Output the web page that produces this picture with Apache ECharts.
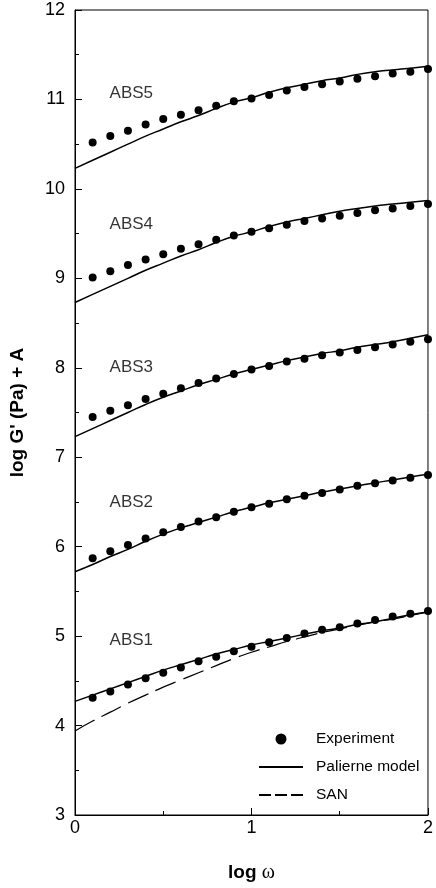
<!DOCTYPE html>
<html>
<head>
<meta charset="utf-8">
<script src="https://cdn.jsdelivr.net/npm/echarts@6/dist/echarts.min.js"></script>
<style>
  html, body { margin: 0; padding: 0; background: #fff; }
  #chart { width: 436px; height: 888px; }
</style>
</head>
<body>
<div id="chart"></div>
<script>
// log omega for experiment points and for model curves
const xExp = [0.1, 0.2, 0.3, 0.4, 0.5, 0.6, 0.7, 0.8, 0.9, 1.0, 1.1, 1.2, 1.3, 1.4, 1.5, 1.6, 1.7, 1.8, 1.9, 2.0]
const xModel = [0, 0.1, 0.2, 0.3, 0.4, 0.5, 0.6, 0.7, 0.8, 0.9, 1.0, 1.1, 1.2, 1.3, 1.4, 1.5, 1.6, 1.7, 1.8, 1.9, 2.0]

// experiment (log G' + A)
const abs1Exp = [4.31, 4.38, 4.46, 4.53, 4.59, 4.65, 4.72, 4.77, 4.83, 4.88, 4.93, 4.98, 5.03, 5.07, 5.10, 5.14, 5.18, 5.22, 5.25, 5.28]
const abs2Exp = [5.87, 5.95, 6.02, 6.09, 6.16, 6.22, 6.28, 6.33, 6.39, 6.44, 6.48, 6.53, 6.57, 6.60, 6.64, 6.68, 6.71, 6.74, 6.77, 6.80]
const abs3Exp = [7.45, 7.52, 7.58, 7.65, 7.71, 7.77, 7.83, 7.88, 7.93, 7.98, 8.02, 8.07, 8.10, 8.14, 8.17, 8.20, 8.23, 8.26, 8.29, 8.32]
const abs4Exp = [9.01, 9.08, 9.15, 9.21, 9.27, 9.33, 9.38, 9.43, 9.48, 9.52, 9.56, 9.60, 9.64, 9.67, 9.70, 9.73, 9.76, 9.78, 9.81, 9.83]
const abs5Exp = [10.52, 10.59, 10.65, 10.72, 10.78, 10.83, 10.88, 10.93, 10.98, 11.01, 11.05, 11.10, 11.14, 11.17, 11.20, 11.23, 11.26, 11.29, 11.31, 11.34]

// Palierne model
const abs1Model = [4.27, 4.34, 4.41, 4.48, 4.55, 4.62, 4.68, 4.74, 4.80, 4.85, 4.90, 4.94, 4.98, 5.02, 5.06, 5.09, 5.13, 5.16, 5.20, 5.24, 5.27]
const abs2Model = [5.72, 5.80, 5.89, 5.97, 6.06, 6.14, 6.21, 6.27, 6.33, 6.39, 6.44, 6.49, 6.53, 6.57, 6.61, 6.645, 6.68, 6.715, 6.745, 6.78, 6.81]
const abs3Model = [7.23, 7.32, 7.41, 7.50, 7.59, 7.67, 7.74, 7.81, 7.87, 7.93, 7.98, 8.03, 8.08, 8.12, 8.16, 8.19, 8.23, 8.26, 8.29, 8.33, 8.37]
const abs4Model = [8.73, 8.82, 8.91, 9.00, 9.09, 9.17, 9.25, 9.32, 9.40, 9.47, 9.52, 9.58, 9.63, 9.67, 9.71, 9.75, 9.78, 9.81, 9.83, 9.85, 9.87]
const abs5Model = [10.23, 10.32, 10.41, 10.50, 10.59, 10.67, 10.75, 10.82, 10.90, 10.97, 11.02, 11.08, 11.13, 11.17, 11.21, 11.24, 11.28, 11.31, 11.33, 11.35, 11.37]

// SAN matrix
const sanModel = [3.94, 4.05, 4.15, 4.25, 4.34, 4.43, 4.51, 4.59, 4.67, 4.75, 4.82, 4.88, 4.94, 4.99, 5.04, 5.08, 5.12, 5.16, 5.19, 5.23, 5.27]

const blendNames = ['ABS1', 'ABS2', 'ABS3', 'ABS4', 'ABS5']
const nameY = [4.95, 6.5, 8.0, 9.6, 11.07]

const expSets = [abs1Exp, abs2Exp, abs3Exp, abs4Exp, abs5Exp]
const modelSets = [abs1Model, abs2Model, abs3Model, abs4Model, abs5Model]

const font = '"Liberation Sans", Arial, Helvetica, sans-serif'

const myChart = echarts.init(document.getElementById('chart'))

const series = []
expSets.forEach(vals => {
  series.push({
    name: 'Experiment',
    type: 'scatter',
    symbol: 'circle',
    symbolSize: 8,
    itemStyle: { color: '#000', opacity: 1 },
    z: 3,
    data: xExp.map((x, i) => [x, vals[i]]),
  })
})
modelSets.forEach(vals => {
  series.push({
    name: 'Palierne model',
    type: 'line',
    smooth: true,
    symbol: 'none',
    lineStyle: { color: '#000', width: 1.5 },
    itemStyle: { color: '#000' },
    data: xModel.map((x, i) => [x, vals[i]]),
  })
})
series.push({
  name: 'SAN',
  type: 'line',
  smooth: true,
  symbol: 'none',
  lineStyle: { color: '#000', width: 1.2, type: [22, 8] },
  itemStyle: { color: '#000' },
  data: xModel.map((x, i) => [x, sanModel[i]]),
})
series.push({
  name: 'labels',
  type: 'scatter',
  symbolSize: 0,
  silent: true,
  label: {
    show: true,
    position: 'right',
    distance: 0,
    formatter: p => blendNames[p.dataIndex],
    color: '#000',
    fontSize: 17,
    fontFamily: font,
  },
  data: nameY.map(y => [0.196, y]),
})

myChart.setOption({
  animation: false,
  backgroundColor: '#fff',
  grid: {
    left: 75,
    right: 3,
    top: 10,
    bottom: 70,
    show: true,
    borderColor: '#000',
    borderWidth: 1,
  },
  legend: {
    data: [
      { name: 'Experiment', icon: 'circle', itemStyle: { color: '#000', opacity: 1 } },
      { name: 'Palierne model', itemStyle: { opacity: 0 } },
      { name: 'SAN', itemStyle: { opacity: 0 }, lineStyle: { type: [12, 4] } },
    ],
    orient: 'vertical',
    left: 258,
    top: 731,
    padding: 0,
    itemWidth: 44,
    itemHeight: 11,
    itemGap: 12,
    selectedMode: false,
    textStyle: {
      color: '#000',
      fontSize: 15.5,
      fontFamily: font,
      padding: [0, 0, 0, 8],
    },
  },
  xAxis: {
    type: 'value',
    min: 0,
    max: 2,
    interval: 1,
    name: '{b|log }{w|ω}',
    nameLocation: 'middle',
    nameGap: 48,
    nameTextStyle: {
      rich: {
        b: { fontSize: 19, fontWeight: 'bold', fontFamily: font, color: '#000' },
        w: { fontSize: 20, fontFamily: '"Liberation Serif", "Times New Roman", serif', color: '#000' },
      },
    },
    axisLine: { lineStyle: { color: '#000', width: 1 } },
    axisTick: { inside: true, length: 7, lineStyle: { color: '#000' } },
    minorTick: { show: true, splitNumber: 2, length: 4, lineStyle: { color: '#000' } },
    axisLabel: { color: '#000', fontSize: 18, fontFamily: font, margin: 4 },
    splitLine: { show: false },
  },
  yAxis: {
    type: 'value',
    min: 3,
    max: 12,
    interval: 1,
    name: "log G' (Pa) + A",
    nameLocation: 'middle',
    nameGap: 48,
    nameTextStyle: { color: '#000', fontSize: 19, fontWeight: 'bold', fontFamily: font },
    axisLine: { show: true, lineStyle: { color: '#000', width: 1 } },
    axisTick: { show: true, inside: true, length: 7, lineStyle: { color: '#000' } },
    minorTick: { show: true, splitNumber: 2, length: 4, lineStyle: { color: '#000' } },
    axisLabel: { color: '#000', fontSize: 18, fontFamily: font, margin: 10 },
    splitLine: { show: false },
  },
  series,
})
</script>
</body>
</html>
